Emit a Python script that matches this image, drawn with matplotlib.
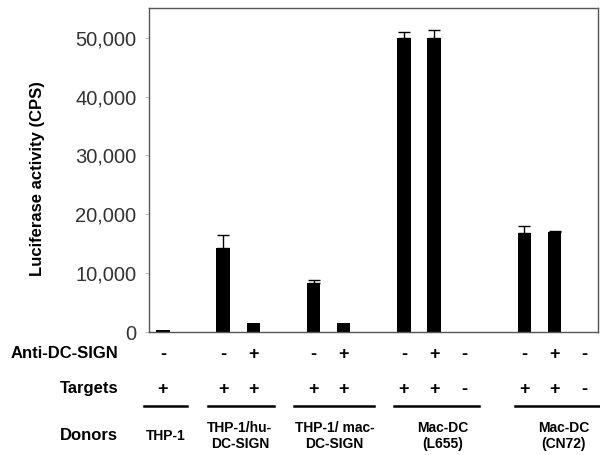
import matplotlib.pyplot as plt
import matplotlib.ticker as mticker

plt.rcParams["font.family"] = ["Liberation Sans", "DejaVu Sans"]

# slot positions of the bars (empty slots separate donor groups)
SLOTS = [0, 2, 3, 5, 6, 8, 9, 10, 12, 13, 14]
VALUES = [400, 14300, 1500, 8400, 1550, 50000, 50000, 0, 16800, 17000, 0]
ERR_UP = [0, 2150, 0, 400, 0, 900, 1300, 0, 1300, 250, 0]

ANTI = ["-", "-", "+", "-", "+", "-", "+", "-", "-", "+", "-"]
TARGETS = ["+", "+", "+", "+", "+", "+", "+", "-", "+", "+", "-"]

DONORS = ["THP-1", "THP-1/hu-\nDC-SIGN", "THP-1/ mac-\nDC-SIGN", "Mac-DC\n(L655)", "Mac-DC\n(CN72)"]
DONOR_SPANS = [(-0.63, 0.8), (1.5, 3.7), (4.35, 7.0), (7.67, 10.5), (11.7, 14.5)]
DONOR_X = [0.1, 2.55, 5.7, 9.3, 13.3]

YTICKS = [0, 10000, 20000, 30000, 40000, 50000]


def main():
    fig = plt.figure(figsize=(6, 4.55), dpi=100)
    ax = fig.add_axes([0.248, 0.270, 0.749, 0.712])

    ax.bar(SLOTS, VALUES, width=0.45, color="black", zorder=2)
    xs = [s for s, e in zip(SLOTS, ERR_UP) if e > 0]
    ys = [v for v, e in zip(VALUES, ERR_UP) if e > 0]
    es = [e for e in ERR_UP if e > 0]
    ax.errorbar(xs, ys, yerr=[[0] * len(es), es], fmt="none", ecolor="black",
                elinewidth=1, capsize=4, capthick=1, zorder=3)

    ax.set_xlim(-0.47, 14.45)
    ax.set_ylim(0, 55000)
    ax.set_yticks(YTICKS)
    ax.yaxis.set_major_formatter(mticker.FuncFormatter(lambda v, p: f"{int(v):,}"))
    ax.tick_params(axis="y", labelsize=14.5, length=3, width=0.6, color="#bbbbbb",
                   labelcolor="#333333", pad=6)
    ax.set_xticks([])
    for sp in ax.spines.values():
        sp.set_color("#555555")
        sp.set_linewidth(1.0)

    ax.set_ylabel("Luciferase activity (CPS)", fontsize=12, fontweight="bold")
    ax.yaxis.set_label_coords(-0.232, 0.475)

    tr = ax.get_xaxis_transform()
    for s, a, t in zip(SLOTS, ANTI, TARGETS):
        ax.text(s, -0.068, a, transform=tr, ha="center", va="center",
                fontsize=13, fontweight="bold", clip_on=False)
        ax.text(s, -0.176, t, transform=tr, ha="center", va="center",
                fontsize=13, fontweight="bold", clip_on=False)

    for (x0, x1), name, xc in zip(DONOR_SPANS, DONORS, DONOR_X):
        ax.plot([x0, x1], [-0.228, -0.228], transform=tr, color="black",
                lw=1.8, clip_on=False)
        ax.text(xc, -0.32, name, transform=tr, ha="center", va="center",
                fontsize=10, fontweight="bold", linespacing=1.2, clip_on=False)

    for label, y in [("Anti-DC-SIGN", 354), ("Targets", 389), ("Donors", 435)]:
        fig.text(118 / 600, 1 - y / 455, label, ha="right", va="center",
                 fontsize=12, fontweight="bold")

    fig.savefig("out.png", dpi=100)


if __name__ == "__main__":
    main()
